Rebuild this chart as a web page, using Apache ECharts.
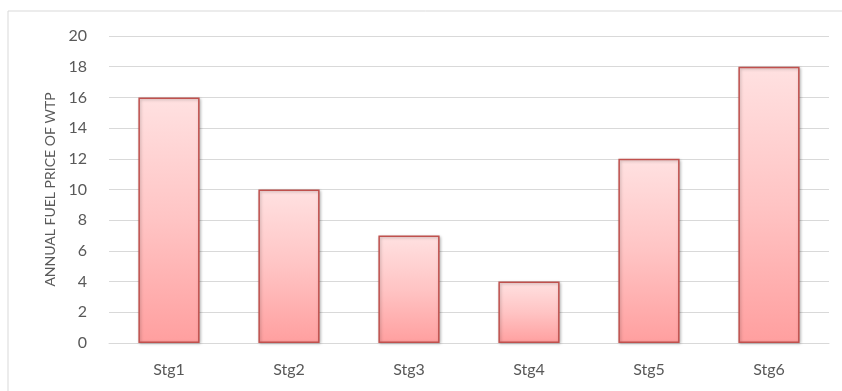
<!DOCTYPE html>
<html>
<head>
<meta charset="utf-8">
<script src="https://cdn.jsdelivr.net/npm/echarts@6/dist/echarts.min.js"></script>
<style>
  html, body { margin: 0; padding: 0; background: #fff; }
  #chart { width: 842px; height: 391px; }
</style>
</head>
<body>
<div id="chart"></div>
<script>
// Annual fuel price per stage
const categories = ['Stg1', 'Stg2', 'Stg3', 'Stg4', 'Stg5', 'Stg6'];
const fuelPrice = [16, 10, 7, 4, 12, 18];
const yTicks = { min: 0, max: 20, interval: 2 };
const yTitle = 'ANNUAL FUEL PRICE OF WTP';

const chart = echarts.init(document.getElementById('chart'), null, { renderer: 'canvas' });
const textColor = '#595959';
const font = 'Lato, "Open Sans", sans-serif';

chart.setOption({
  animation: false,
  graphic: [{
    type: 'rect',
    shape: { x: 8, y: 11, width: 900, height: 500 },
    style: { fill: 'none', stroke: '#d9d9d9', lineWidth: 1 },
    silent: true
  }],
  grid: { left: 109, right: 13, top: 36, bottom: 48 },
  xAxis: {
    type: 'category',
    data: categories,
    axisLine: { lineStyle: { color: '#d9d9d9', width: 1 } },
    axisTick: { show: false },
    axisLabel: { color: textColor, fontSize: 16, fontFamily: font, margin: 19 }
  },
  yAxis: {
    type: 'value',
    min: yTicks.min,
    max: yTicks.max,
    interval: yTicks.interval,
    name: yTitle,
    nameLocation: 'middle',
    nameGap: 52,
    nameTextStyle: { color: textColor, fontSize: 14, fontFamily: font },
    axisLine: { show: false },
    axisTick: { show: false },
    axisLabel: { color: textColor, fontSize: 16, fontFamily: font, margin: 22 },
    splitLine: { lineStyle: { color: '#d9d9d9', width: 1 } }
  },
  series: [{
    type: 'bar',
    data: fuelPrice,
    barWidth: '51%',
    itemStyle: {
      color: new echarts.graphic.LinearGradient(0, 0, 0, 1, [
        { offset: 0, color: '#ffe1e1' },
        { offset: 0.5, color: '#ffc4c4' },
        { offset: 1, color: '#ff9f9f' }
      ]),
      borderColor: '#c0504d',
      borderWidth: 1.5,
      shadowColor: 'rgba(0,0,0,0.25)',
      shadowBlur: 3,
      shadowOffsetX: 1,
      shadowOffsetY: 1
    }
  }]
});
</script>
</body>
</html>
